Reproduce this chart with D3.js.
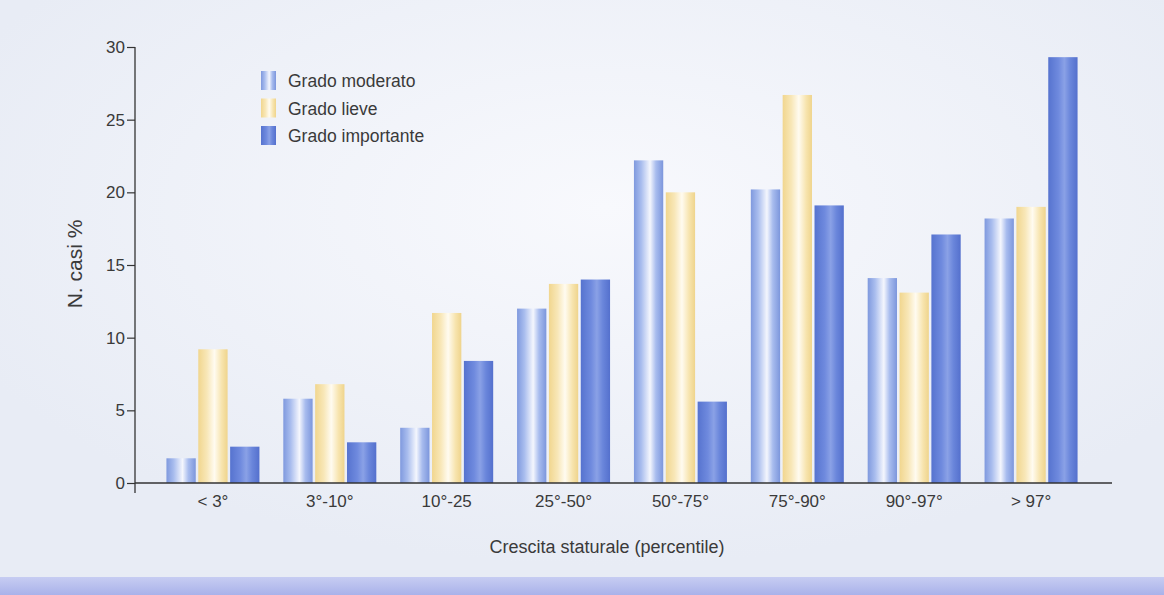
<!DOCTYPE html>
<html>
<head>
<meta charset="utf-8">
<script src="https://cdn.jsdelivr.net/npm/d3@7"></script>
<style>
  html, body { margin: 0; padding: 0; background: #eef1f8; }
  svg { display: block; }
  text { font-family: "Liberation Sans", Arial, sans-serif; fill: #3a3a3a; }
</style>
</head>
<body>
<svg id="chart" width="1164" height="595"></svg>
<script>
// Percentile classes of stature growth
const categories = ["< 3°", "3°-10°", "10°-25", "25°-50°", "50°-75°", "75°-90°", "90°-97°", "> 97°"];
// Series: share of cases (%) by degree
const seriesNames = ["Grado moderato", "Grado lieve", "Grado importante"];
const gradoModerato   = [1.7, 5.8, 3.8, 12.0, 22.2, 20.2, 14.1, 18.2];
const gradoLieve      = [9.2, 6.8, 11.7, 13.7, 20.0, 26.7, 13.1, 19.0];
const gradoImportante = [2.5, 2.8, 8.4, 14.0, 5.6, 19.1, 17.1, 29.3];
const yTicks = [0, 5, 10, 15, 20, 25, 30];

const seriesValues = [gradoModerato, gradoLieve, gradoImportante];
const rows = categories.map((c, i) => ({
  cat: c,
  values: seriesNames.map((s, k) => ({ key: s, k, value: seriesValues[k][i] }))
}));

const svg = d3.select("#chart");
const W = 1164, H = 595;
const defs = svg.append("defs");

// Background: pale blue-grey with a lighter glow in the middle
const bg = defs.append("radialGradient").attr("id", "bgGlow")
  .attr("cx", "52%").attr("cy", "35%").attr("r", "60%");
bg.append("stop").attr("offset", "0%").attr("stop-color", "#f8f9fd");
bg.append("stop").attr("offset", "100%").attr("stop-color", "#e8ecf5");
svg.append("rect").attr("width", W).attr("height", H).attr("fill", "url(#bgGlow)");

// Bottom band
const band = defs.append("linearGradient").attr("id", "bandGrad")
  .attr("x1", "0").attr("x2", "0").attr("y1", "0").attr("y2", "1");
band.append("stop").attr("offset", "0%").attr("stop-color", "#c7cdf2");
band.append("stop").attr("offset", "100%").attr("stop-color", "#a9b2ea");
svg.append("rect").attr("x", 0).attr("y", 577).attr("width", W).attr("height", H - 577)
  .attr("fill", "url(#bandGrad)");

// Bar fills: cylinder-like horizontal gradients
function cyl(id, stops) {
  const g = defs.append("linearGradient").attr("id", id)
    .attr("x1", "0").attr("x2", "1").attr("y1", "0").attr("y2", "0");
  stops.forEach(([o, c]) => g.append("stop").attr("offset", o).attr("stop-color", c));
}
cyl("gModerato", [["0%", "#7f99de"], ["25%", "#a9bdee"], ["55%", "#f4f6fd"], ["75%", "#a8bcee"], ["100%", "#7c96dc"]]);
cyl("gLieve", [["0%", "#f1d68e"], ["30%", "#f8e7b8"], ["55%", "#fffbf0"], ["80%", "#f7e4ae"], ["100%", "#efd48c"]]);
cyl("gImportante", [["0%", "#5673cf"], ["35%", "#6f8ade"], ["55%", "#8aa1e6"], ["75%", "#6a86db"], ["100%", "#5470cd"]]);
const fills = ["url(#gModerato)", "url(#gLieve)", "url(#gImportante)"];

const x0 = d3.scaleBand().domain(categories).range([154.5, 1089.5]).paddingInner(0).paddingOuter(0);
const x1 = d3.scaleBand().domain(seriesNames).range([0, 93]).paddingInner(0.08);
const y = d3.scaleLinear().domain([0, 30]).range([483, 47]);

// Bars
const groups = svg.append("g").selectAll("g").data(rows).join("g")
  .attr("transform", d => `translate(${x0(d.cat) + (x0.bandwidth() - 93) / 2},0)`);
groups.selectAll("rect").data(d => d.values).join("rect")
  .attr("x", d => x1(d.key))
  .attr("width", x1.bandwidth())
  .attr("y", d => y(d.value))
  .attr("height", d => y(0) - y(d.value))
  .attr("fill", d => fills[d.k]);

// Y axis
const yAxis = svg.append("g").attr("transform", "translate(135,0)")
  .call(d3.axisLeft(y).tickValues(yTicks).tickSize(8).tickPadding(2));
yAxis.select(".domain").remove();
yAxis.selectAll(".tick line").attr("stroke", "#333").attr("stroke-width", 1.2);
yAxis.selectAll(".tick text").style("font-size", "17px").attr("fill", "#3a3a3a")
  .style("font-family", "Liberation Sans, Arial, sans-serif");
svg.append("line").attr("x1", 135).attr("x2", 135).attr("y1", 47).attr("y2", 493)
  .attr("stroke", "#333").attr("stroke-width", 1.3);

// X axis
const xAxis = svg.append("g").attr("transform", "translate(0,483)")
  .call(d3.axisBottom(x0).tickSize(0).tickPadding(12));
xAxis.select(".domain").remove();
xAxis.selectAll(".tick text").style("font-size", "17px").attr("fill", "#3a3a3a")
  .style("font-family", "Liberation Sans, Arial, sans-serif");
svg.append("line").attr("x1", 135).attr("x2", 1112).attr("y1", 483).attr("y2", 483)
  .attr("stroke", "#333").attr("stroke-width", 1.3);

// Axis titles
svg.append("text").attr("transform", "translate(82,264) rotate(-90)")
  .attr("text-anchor", "middle").style("font-size", "21px").text("N. casi %");
svg.append("text").attr("x", 607).attr("y", 553)
  .attr("text-anchor", "middle").style("font-size", "18px").text("Crescita staturale (percentile)");

// Legend
const legend = svg.append("g").selectAll("g").data(seriesNames).join("g")
  .attr("transform", (d, i) => `translate(261,${71 + i * 27.5})`);
legend.append("rect").attr("width", 15).attr("height", 19).attr("fill", (d, i) => fills[i]);
legend.append("text").attr("x", 27).attr("y", 16).style("font-size", "17.5px").text(d => d);
</script>
</body>
</html>
